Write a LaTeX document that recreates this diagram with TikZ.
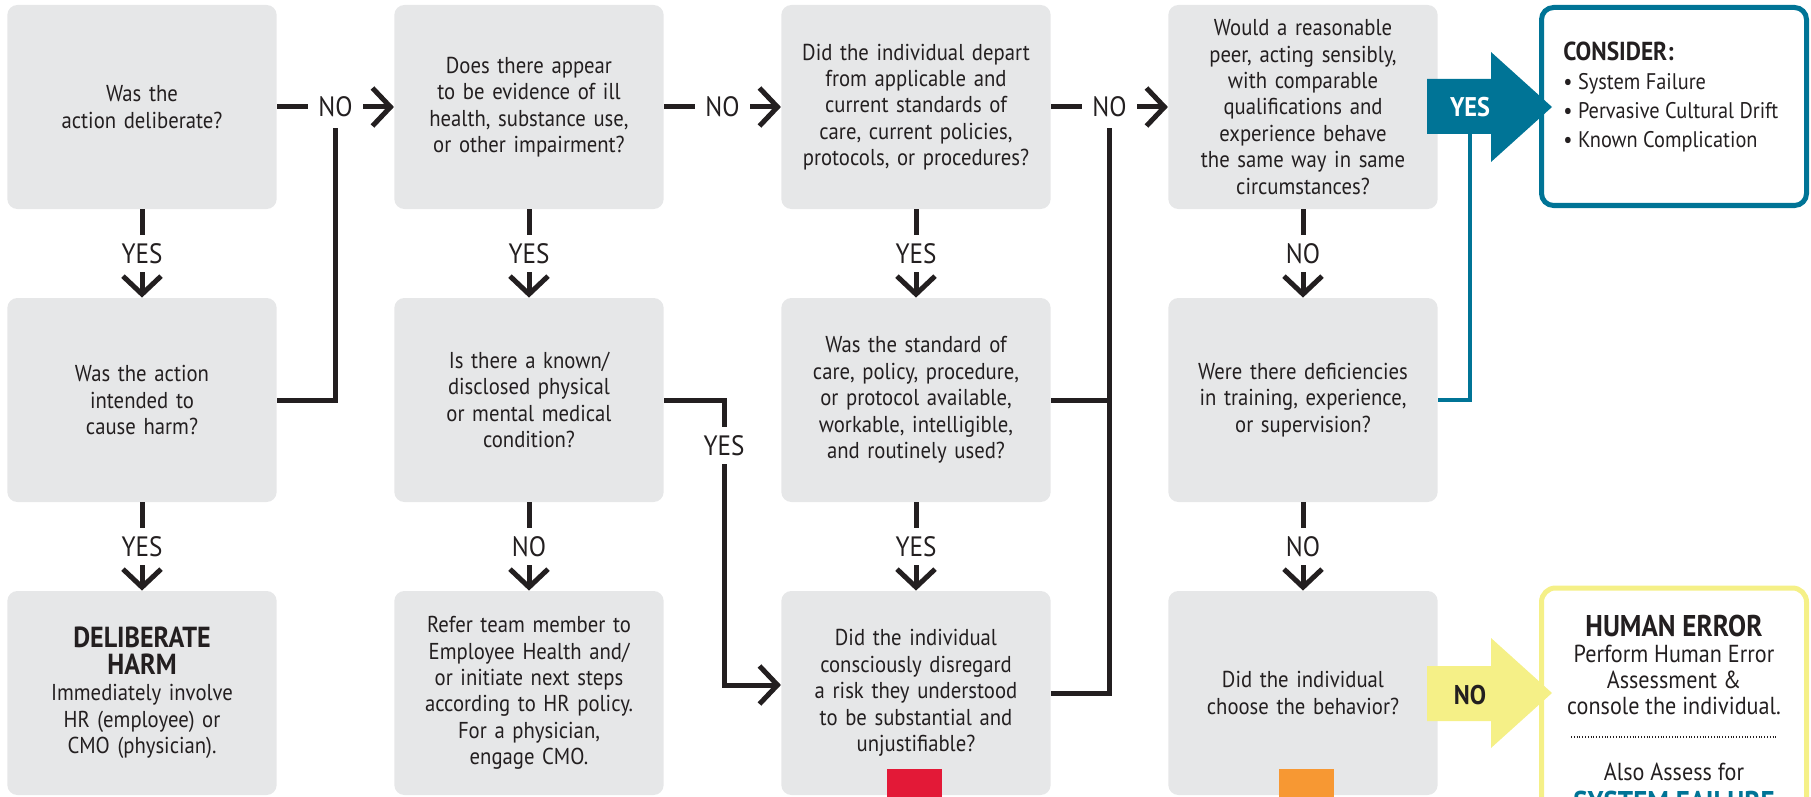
\documentclass[tikz,border=0pt]{standalone}
\usepackage{fontspec}
\setmainfont{PT Sans}[FakeStretch=0.9]
\usepackage{tikz}
\usetikzlibrary{arrows.meta}

\definecolor{ink}{RGB}{35,31,32}
\definecolor{boxgray}{RGB}{230,231,232}
\definecolor{tealc}{RGB}{0,116,150}
\definecolor{yellowc}{RGB}{245,240,135}
\definecolor{redc}{RGB}{227,25,55}
\definecolor{orangec}{RGB}{247,152,51}

\begin{document}
\begin{tikzpicture}[x=0.5pt,y=-0.5pt,
    qbox/.style={fill=boxgray, rounded corners=5pt, minimum width=133pt, minimum height=102pt,
        text width=128pt, align=center, text=ink, font=\fontsize{11.5}{13.2}\selectfont},
    conn/.style={draw=ink, line width=2.5pt},
    arr/.style={conn, -{Straight Barb[length=9pt,width=19pt]}},
    lbl/.style={fill=white, text=ink, inner xsep=5pt, inner ysep=4pt, font=\fontsize{14}{14}\selectfont},
    bigtxt/.style={font=\fontsize{13.5}{14}\selectfont\bfseries}]

        % Keep the picture the size of the reference
        \clip (0,0) rectangle (1811,797);

        % Question boxes, column by column
        \node[qbox] (deliberate) at (142,107) {Was the\\action deliberate?};
        \node[qbox] (intent) at (142,400) {Was the action\\intended to\\cause harm?};
        \node[qbox] (harm) at (142,693) {{\fontsize{14.5}{15}\selectfont\bfseries DELIBERATE\\HARM}\\Immediately involve\\HR (employee) or\\CMO (physician).};

        \node[qbox] (impair) at (529,107) {Does there appear\\to be evidence of ill\\health, substance use,\\or other impairment?};
        \node[qbox] (condition) at (529,400) {Is there a known/\\disclosed physical\\or mental medical\\condition?};
        \node[qbox] (refer) at (529,693) {Refer team member to\\Employee Health and/\\or initiate next steps\\according to HR policy.\\For a physician,\\engage CMO.};

        \node[qbox] (depart) at (916,107) {Did the individual depart\\from applicable and\\current standards of\\care, current policies,\\protocols, or procedures?};
        \node[qbox] (standard) at (916,400) {Was the standard of\\care, policy, procedure,\\or protocol available,\\workable, intelligible,\\and routinely used?};
        \node[qbox] (disregard) at (916,693) {Did the individual\\consciously disregard\\a risk they understood\\to be substantial and\\unjustifiable?};

        \node[qbox] (peer) at (1303,107) {Would a reasonable\\peer, acting sensibly,\\with comparable\\qualifications and\\experience behave\\the same way in same\\circumstances?};
        \node[qbox] (deficient) at (1303,400) {Were there deficiencies\\in training, experience,\\or supervision?};
        \node[qbox] (choose) at (1303,693) {Did the individual\\choose the behavior?};

        % Colour marks at the foot of two boxes
        \fill[redc] (887,769) rectangle (942,797);
        \fill[orangec] (1279,769) rectangle (1334,797);

        % Down arrows
        \foreach \a/\b/\t in {deliberate/intent/YES, intent/harm/YES, impair/condition/YES,
                condition/refer/NO, depart/standard/YES, standard/disregard/YES,
                peer/deficient/NO, deficient/choose/NO}
            \draw[arr] (\a) -- node[lbl] (\a-\b) {\t} (\b);

        % Across arrows
        \draw[arr] (deliberate) -- node[lbl] (no1) {NO} (impair);
        \draw[arr] (impair) -- node[lbl] (no2) {NO} (depart);
        \draw[arr] (depart) -- node[lbl] (no3) {NO} (peer);

        % Lines that join the across arrows
        \draw[conn] (intent.east) -| (no1.south);
        \draw[conn] (standard.east) -| (no3.south);
        \draw[conn] (disregard.east) -| (no3.south);

        % Bent arrow from the medical condition box
        \coordinate (bend) at (724,685);
        \draw[arr] (condition.east) -| node[lbl, pos=0.58] (yes-cond) {YES} (bend) -- (bend -| disregard.west);

        % Consider box
        \node[draw=tealc, line width=2.5pt, rounded corners=6pt, minimum width=132.5pt,
            minimum height=99pt] (consider) at (1674,106.5) {};
        \node[anchor=north west, align=left, text=ink, inner sep=0pt,
            font=\fontsize{11.3}{14.5}\selectfont] (considertext) at (1563,42)
            {{\fontsize{13}{14.5}\selectfont\bfseries CONSIDER:}\\
             • System Failure\\• Pervasive Cultural Drift\\• Known Complication};

        % Human error box
        \node[draw=yellowc, line width=2.5pt, rounded corners=7pt, minimum width=132.5pt,
            minimum height=150pt, anchor=north] (humanerr) at (1674,585.5) {};
        \node[anchor=north, align=center, text=ink, inner sep=0pt,
            font=\fontsize{12.3}{12.9}\selectfont] (errtext) at (1674,615)
            {{\fontsize{15}{15}\selectfont\bfseries HUMAN ERROR}\\Perform Human Error\\Assessment \&\\console the individual.};
        \draw[ink, line width=0.8pt, dash pattern=on 0.5pt off 0.9pt] (1571,737) -- (1777,737);
        \node[text=ink, font=\fontsize{12.3}{13}\selectfont] (also) at (1674,772) {Also Assess for};
        \node[text=tealc, font=\fontsize{15}{15}\selectfont\bfseries] (sysfail) at (1674,802) {SYSTEM FAILURE};

        % Big YES arrow
        \fill[tealc] (1427,79) -- (1491,79) -- (1491,52) -- (1552,107) -- (1491,162)
            -- (1491,134) -- (1427,134) -- cycle;
        \node[bigtxt, text=white] (yesbig) at (1470,107) {YES};
        \coordinate (yesfoot) at (1470,134);
        \draw[tealc, line width=2.2pt] (deficient.east) -| (yesfoot);

        % Big NO arrow
        \fill[yellowc] (1427,666) -- (1491,666) -- (1491,638) -- (1552,693) -- (1491,748)
            -- (1491,721) -- (1427,721) -- cycle;
        \node[bigtxt, text=ink] (nobig) at (1470,695) {NO};
    \end{tikzpicture}
\end{document}
